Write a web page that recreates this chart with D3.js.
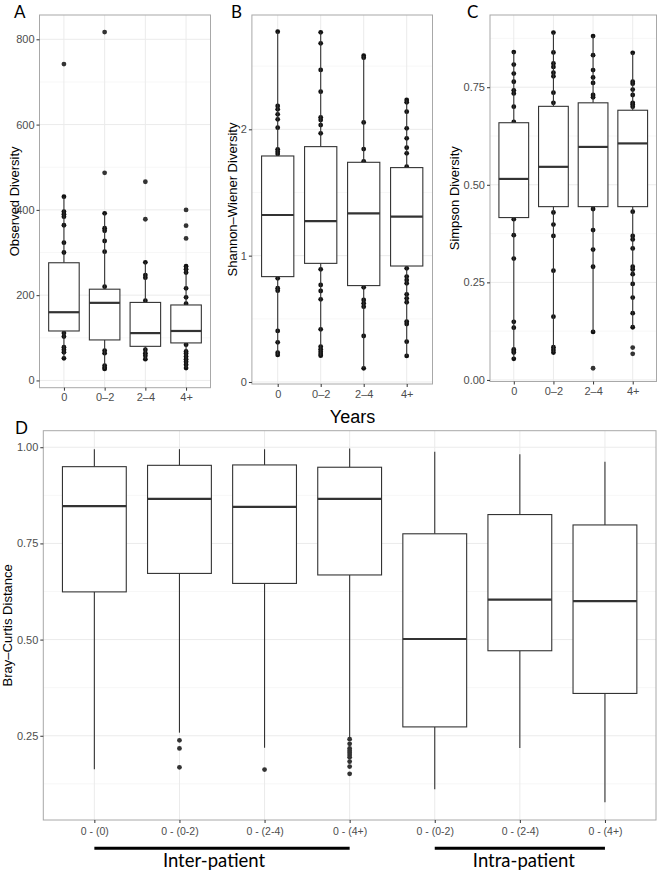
<!DOCTYPE html>
<html>
<head>
<meta charset="utf-8">
<script src="https://cdn.jsdelivr.net/npm/d3@7"></script>
<style>
  html, body { margin: 0; padding: 0; background: #fff; }
  svg { display: block; }
</style>
</head>
<body>
<svg id="chart" width="657" height="872"></svg>
<script>
// ---------------- DATA ----------------
const yearGroups = ["0", "0\u20132", "2\u20134", "4+"];

// stats per group: [lower whisker, Q1, median, Q3, upper whisker]
const observedStats = [[52, 116, 160, 276, 431], [27, 95, 182, 214, 392], [50, 80, 111, 183, 277], [29, 88, 116, 177, 268]];
const observedOutliers = [[742], [817, 487], [466, 378], [400, 363, 333]];
const observedPoints = [
  [431, 396, 390, 384, 364, 323, 300, 111, 103, 78, 72, 66, 52],
  [392, 357, 351, 327, 302, 220, 70, 64, 35, 30, 27],
  [277, 247, 241, 187, 72, 64, 58, 50],
  [268, 261, 253, 216, 195, 180, 84, 68, 63, 56, 50, 44, 37, 29]
];
const observedTicks = [0, 200, 400, 600, 800];

const shannonStats = [[0.214, 0.834, 1.322, 1.789, 2.773], [0.208, 0.939, 1.274, 1.863, 2.768], [0.108, 0.763, 1.335, 1.739, 2.583], [0.206, 0.918, 1.309, 1.697, 2.232]];
const shannonOutliers = [[], [], [], []];
const shannonPoints = [
  [2.773, 2.185, 2.158, 2.119, 2.079, 2.013, 1.842, 1.823, 1.805, 0.821, 0.742, 0.723, 0.404, 0.314, 0.232, 0.214],
  [2.768, 2.681, 2.470, 2.298, 2.095, 2.074, 2.034, 1.968, 0.892, 0.768, 0.720, 0.654, 0.417, 0.280, 0.259, 0.240, 0.222, 0.208],
  [2.583, 2.567, 2.055, 1.844, 1.747, 0.749, 0.649, 0.623, 0.596, 0.364, 0.108],
  [2.232, 2.214, 2.140, 2.008, 1.929, 1.855, 1.810, 1.704, 0.900, 0.834, 0.807, 0.781, 0.694, 0.662, 0.631, 0.478, 0.459, 0.319, 0.206]
];
const shannonTicks = [0, 1, 2];

const simpsonStats = [[0.054, 0.416, 0.515, 0.659, 0.840], [0.070, 0.444, 0.546, 0.701, 0.890], [0.123, 0.444, 0.597, 0.710, 0.881], [0.135, 0.444, 0.606, 0.691, 0.838]];
const simpsonOutliers = [[], [], [0.030], [0.083, 0.067]];
const simpsonPoints = [
  [0.840, 0.808, 0.785, 0.764, 0.742, 0.734, 0.700, 0.661, 0.412, 0.371, 0.311, 0.149, 0.134, 0.078, 0.074, 0.070, 0.054],
  [0.890, 0.839, 0.811, 0.802, 0.787, 0.778, 0.736, 0.710, 0.429, 0.398, 0.369, 0.280, 0.162, 0.084, 0.077, 0.070],
  [0.881, 0.832, 0.794, 0.775, 0.761, 0.730, 0.724, 0.438, 0.384, 0.334, 0.290, 0.123],
  [0.838, 0.764, 0.759, 0.744, 0.730, 0.710, 0.706, 0.700, 0.680, 0.674, 0.431, 0.369, 0.360, 0.337, 0.290, 0.283, 0.271, 0.246, 0.211, 0.171, 0.135]
];
const simpsonTicks = [0, 0.25, 0.5, 0.75];

const distanceGroups = ["0 - (0)", "0 - (0-2)", "0 - (2-4)", "0 - (4+)", "0 - (0-2)", "0 - (2-4)", "0 - (4+)"];
const distanceStats = [[0.163, 0.624, 0.847, 0.9495, 0.995], [0.258, 0.672, 0.866, 0.953, 0.995], [0.219, 0.646, 0.845, 0.954, 0.995], [0.245, 0.668, 0.866, 0.948, 0.997], [0.111, 0.273, 0.5015, 0.775, 0.988], [0.218, 0.471, 0.604, 0.825, 0.982], [0.077, 0.360, 0.600, 0.798, 0.962]];
const distanceOutliers = [[], [0.238, 0.217, 0.168], [0.162], [0.241, 0.229, 0.217, 0.211, 0.206, 0.200, 0.194, 0.183, 0.170, 0.151], [], [], []];
const distancePoints = [[], [], [], [], [], [], []];
const distanceTicks = [0.25, 0.5, 0.75, 1.0];
const comparisonGroups = [{ label: "Inter-patient", from: 0, to: 3 }, { label: "Intra-patient", from: 4, to: 6 }];

// ---------------- DRAW ----------------
const svg = d3.select("#chart");
const FONT = "'Liberation Sans', Arial, Helvetica, sans-serif";
const LETTER_FONT = "Lato, 'Open Sans', sans-serif";

function drawPanel(cfg) {
  const g = svg.append("g");
  const n = cfg.labels.length;
  const x = d3.scalePoint().domain(d3.range(n)).range([cfg.left, cfg.right]).padding(0.6);
  const y = d3.scaleLinear().domain(cfg.domain).range([cfg.bottom, cfg.top]);
  const bw = x.step() * 0.75;

  // grid
  const grid = g.append("g");
  grid.selectAll("line.minor").data(cfg.minor).join("line")
    .attr("x1", cfg.left).attr("x2", cfg.right)
    .attr("y1", d => y(d)).attr("y2", d => y(d))
    .attr("stroke", "#f2f2f2").attr("stroke-width", 0.6);
  grid.selectAll("line.majh").data(cfg.ticks).join("line")
    .attr("x1", cfg.left).attr("x2", cfg.right)
    .attr("y1", d => y(d)).attr("y2", d => y(d))
    .attr("stroke", "#ebebeb").attr("stroke-width", 1);
  grid.selectAll("line.majv").data(d3.range(n)).join("line")
    .attr("x1", d => x(d)).attr("x2", d => x(d))
    .attr("y1", cfg.top).attr("y2", cfg.bottom)
    .attr("stroke", "#ebebeb").attr("stroke-width", 1);

  // raw points
  cfg.points.forEach((arr, i) => {
    g.append("g").selectAll("circle").data(arr).join("circle")
      .attr("cx", x(i)).attr("cy", d => y(d)).attr("r", 2.4).attr("fill", "#111");
  });

  // boxes
  cfg.stats.forEach((s, i) => {
    const cx = x(i);
    const bg = g.append("g");
    bg.append("line").attr("x1", cx).attr("x2", cx).attr("y1", y(s[3])).attr("y2", y(s[4]))
      .attr("stroke", "#333").attr("stroke-width", 1.1);
    bg.append("line").attr("x1", cx).attr("x2", cx).attr("y1", y(s[1])).attr("y2", y(s[0]))
      .attr("stroke", "#333").attr("stroke-width", 1.1);
    bg.append("rect").attr("x", cx - bw / 2).attr("width", bw)
      .attr("y", y(s[3])).attr("height", y(s[1]) - y(s[3]))
      .attr("fill", "#fff").attr("stroke", "#333").attr("stroke-width", 1.1);
    bg.append("line").attr("x1", cx - bw / 2).attr("x2", cx + bw / 2).attr("y1", y(s[2])).attr("y2", y(s[2]))
      .attr("stroke", "#333").attr("stroke-width", 2.2);
    bg.selectAll("circle").data(cfg.outliers[i]).join("circle")
      .attr("cx", cx).attr("cy", d => y(d)).attr("r", 2.4).attr("fill", "#333");
  });

  // border
  g.append("rect").attr("x", cfg.left).attr("y", cfg.top)
    .attr("width", cfg.right - cfg.left).attr("height", cfg.bottom - cfg.top)
    .attr("fill", "none").attr("stroke", "#a8a8a8").attr("stroke-width", 1);

  // axes
  const ya = g.append("g").attr("transform", `translate(${cfg.left},0)`)
    .call(d3.axisLeft(y).tickValues(cfg.ticks).tickFormat(cfg.tickFormat).tickSize(3).tickPadding(2));
  const xa = g.append("g").attr("transform", `translate(0,${cfg.bottom})`)
    .call(d3.axisBottom(x).tickFormat(i => cfg.labels[i]).tickSize(3).tickPadding(cfg.xPad));
  [ya, xa].forEach(a => {
    a.select(".domain").remove();
    a.selectAll(".tick line").attr("stroke", "#333").attr("stroke-width", 1);
    a.selectAll(".tick text").attr("fill", "#4d4d4d").style("font-family", FONT);
  });
  ya.selectAll(".tick text").style("font-size", cfg.yFont + "px");
  xa.selectAll(".tick text").style("font-size", cfg.xFont + "px");

  // y title
  g.append("text").attr("transform", `translate(${cfg.titleX},${(cfg.top + cfg.bottom) / 2}) rotate(-90)`)
    .attr("text-anchor", "middle").style("font-family", FONT).style("font-size", "13px")
    .attr("fill", "#000").text(cfg.title);

  // panel letter
  g.append("text").attr("x", cfg.letterX).attr("y", cfg.letterY)
    .style("font-family", LETTER_FONT).style("font-size", "17px").attr("fill", "#000").text(cfg.letter);
  return { x, y };
}

drawPanel({
  left: 39.5, right: 210.5, top: 15, bottom: 387.7, domain: [-17, 857],
  labels: yearGroups, stats: observedStats, outliers: observedOutliers, points: observedPoints,
  ticks: observedTicks, minor: [100, 300, 500, 700], tickFormat: d3.format("d"),
  title: "Observed Diversity", titleX: 18.5, letter: "A", letterX: 14, letterY: 17.5,
  yFont: 11, xFont: 11, xPad: 3
});
drawPanel({
  left: 251.9, right: 432.5, top: 15, bottom: 384, domain: [-0.016, 2.905],
  labels: yearGroups, stats: shannonStats, outliers: shannonOutliers, points: shannonPoints,
  ticks: shannonTicks, minor: [0.5, 1.5, 2.5], tickFormat: d3.format("d"),
  title: "Shannon\u2013Wiener Diversity", titleX: 236.5, letter: "B", letterX: 231, letterY: 17.5,
  yFont: 11, xFont: 11, xPad: 3
});
drawPanel({
  left: 490, right: 656.5, top: 15, bottom: 381.5, domain: [-0.004, 0.935],
  labels: yearGroups, stats: simpsonStats, outliers: simpsonOutliers, points: simpsonPoints,
  ticks: simpsonTicks, minor: [0.125, 0.375, 0.625, 0.875], tickFormat: d3.format(".2f"),
  title: "Simpson Diversity", titleX: 458.5, letter: "C", letterX: 467, letterY: 17.5,
  yFont: 11, xFont: 11, xPad: 3
});

// shared x title for A-C
svg.append("text").attr("x", 352.5).attr("y", 423).attr("text-anchor", "middle")
  .style("font-family", FONT).style("font-size", "18px").attr("fill", "#000").text("Years");

const pd = drawPanel({
  left: 43.3, right: 656, top: 430.7, bottom: 820, domain: [0.031, 1.043],
  labels: distanceGroups, stats: distanceStats, outliers: distanceOutliers, points: distancePoints,
  ticks: distanceTicks, minor: [0.125, 0.375, 0.625, 0.875], tickFormat: d3.format(".2f"),
  title: "Bray\u2013Curtis Distance", titleX: 12, letter: "D", letterX: 15, letterY: 433.5,
  yFont: 11, xFont: 10.5, xPad: 5
});

// comparison group brackets
comparisonGroups.forEach(cg => {
  const x1 = pd.x(cg.from), x2 = pd.x(cg.to);
  svg.append("line").attr("x1", x1).attr("x2", x2).attr("y1", 848.3).attr("y2", 848.3)
    .attr("stroke", "#000").attr("stroke-width", 3);
  svg.append("text").attr("x", (x1 + x2) / 2 + (cg.from === 0 ? -8 : 4)).attr("y", 866.5).attr("text-anchor", "middle")
    .style("font-family", LETTER_FONT).style("font-size", "18.5px").attr("fill", "#000").text(cg.label);
});
</script>
</body>
</html>
